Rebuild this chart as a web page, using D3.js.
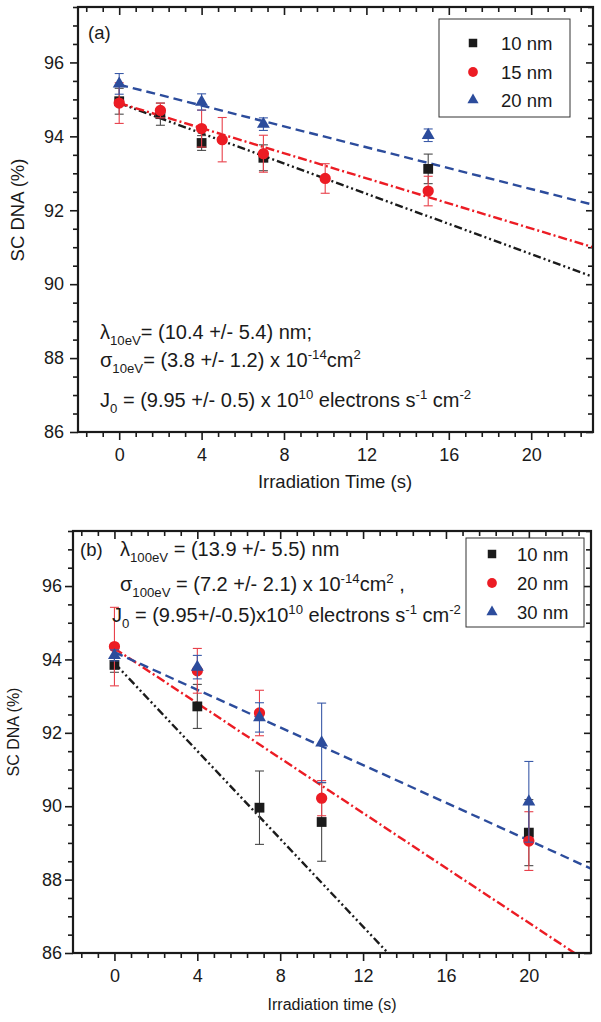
<!DOCTYPE html>
<html>
<head>
<meta charset="utf-8">
<script src="https://cdn.jsdelivr.net/npm/d3@7"></script>
<style>
  body { margin: 0; background: #fff; }
  svg text { font-family: "Liberation Sans", Arial, Helvetica, sans-serif; fill: #1a1a1a; white-space: pre; }
</style>
</head>
<body>
<div id="chart"></div>
<script>
// ---------- data, panel (a) ----------
var seriesNamesA = ["10 nm", "15 nm", "20 nm"];
var timeA10 = [0, 2, 4, 7, 15];
var dnaA10  = [94.95, 94.6, 93.82, 93.42, 93.12];
var errA10  = [0.35, 0.3, 0.2, 0.35, 0.4];
var timeA15 = [0, 2, 4, 5, 7, 10, 15];
var dnaA15  = [94.9, 94.7, 94.21, 93.91, 93.53, 92.86, 92.52];
var errA15  = [0.55, 0.2, 0.5, 0.6, 0.5, 0.4, 0.4];
var timeA20 = [0, 4, 7, 15];
var dnaA20  = [95.42, 94.93, 94.33, 94.03];
var errA20  = [0.28, 0.22, 0.17, 0.17];
// fitted lines (end points)
var fitTimeA = [0, 23];
var fitA10 = [94.9, 90.2];
var fitA15 = [94.9, 91.0];
var fitA20 = [95.4, 92.15];

// ---------- data, panel (b) ----------
var seriesNamesB = ["10 nm", "20 nm", "30 nm"];
var timeB = [0, 4, 7, 10, 20];
var dnaB10 = [93.85, 92.72, 89.96, 89.57, 89.28];
var errB10 = [0.2, 0.6, 1.0, 1.07, 0.9];
var dnaB20 = [94.35, 93.69, 92.54, 90.22, 89.05];
var errB20 = [1.07, 0.61, 0.62, 0.48, 0.8];
var dnaB30 = [94.11, 93.79, 92.42, 91.73, 90.12];
var errB30 = [0.15, 0.32, 0.4, 1.08, 1.1];
var fitTimeB10 = [0, 13.2];
var fitB10 = [93.9, 86.0];
var fitTimeB20 = [0, 22.2];
var fitB20 = [94.3, 86.0];
var fitTimeB30 = [0, 23];
var fitB30 = [94.2, 88.3];

// axis ticks
var xDomain = [-2, 23];
var yDomain = [86, 97.5];
var xMajor = [0, 4, 8, 12, 16, 20];
var yMajor = [86, 88, 90, 92, 94, 96];

var colors = ["#1b1b1b", "#ec1c24", "#2c4c9c"];
var errColors = ["#4a4a4a", "#e8404a", "#3a5aa8"];
var symbols = [d3.symbolSquare, d3.symbolCircle, d3.symbolTriangle];
var symSize = [96, 100, 72];
var dashes = ["8,3,2,3,2,3", "9,3,2,3", "9,5"];

var xMinor = d3.range(-2, 29).map(function (i) { return +(i * 0.8).toFixed(2); })
    .filter(function (v) { return v >= xDomain[0] && v <= xDomain[1] && Math.abs(v / 4 - Math.round(v / 4)) > 1e-6; });
var yMinor = d3.range(0, 24).map(function (i) { return 86 + i * 0.5; })
    .filter(function (v) { return v <= yDomain[1] && v % 2 !== 0; });

function zip(a, b, c) {
    return a.map(function (d, i) { return { t: d, v: b[i], e: c ? c[i] : 0 }; });
}

var panelA = {
    left: 78, right: 593, top: 7, bottom: 432,
    yPad: 6, xPad: 8,
    series: [zip(timeA10, dnaA10, errA10), zip(timeA15, dnaA15, errA15), zip(timeA20, dnaA20, errA20)],
    fits: [zip(fitTimeA, fitA10), zip(fitTimeA, fitA15), zip(fitTimeA, fitA20)],
    names: seriesNamesA,
    legend: { x: 439, y: 19, w: 131, h: 98, rows: [43, 72, 100], mx: 473, tx: 501 },
    tag: { x: 88, y: 39, text: "(a)" },
    xTitle: { text: "Irradiation Time (s)", x: 335, y: 488, size: 18.5 },
    yTitle: { x: 24, y: 210, size: 18.5 },
    notes: [
        { x: 100, y: 339, parts: [["λ", ""], ["10eV", "sub"], ["= (10.4 +/- 5.4) nm;", ""]] },
        { x: 100, y: 367, parts: [["σ", ""], ["10eV", "sub"], ["= (3.8 +/- 1.2) x 10", ""], ["-14", "sup"], ["cm", ""], ["2", "sup"]] },
        { x: 100, y: 407, parts: [["J", ""], ["0", "sub"], [" = (9.95 +/- 0.5) x 10", ""], ["10", "sup"], [" electrons s", ""], ["-1", "sup"], [" cm", ""], ["-2", "sup"]] }
    ]
};

var panelB = {
    left: 73, right: 591, top: 531, bottom: 953,
    yPad: 3, xPad: 8,
    series: [zip(timeB, dnaB10, errB10), zip(timeB, dnaB20, errB20), zip(timeB, dnaB30, errB30)],
    fits: [zip(fitTimeB10, fitB10), zip(fitTimeB20, fitB20), zip(fitTimeB30, fitB30)],
    names: seriesNamesB,
    legend: { x: 466, y: 538, w: 118, h: 89, rows: [554, 583, 612], mx: 492, tx: 517 },
    tag: { x: 80, y: 556, text: "(b)" },
    xTitle: { text: "Irradiation time (s)", x: 332, y: 1010, size: 16 },
    yTitle: { x: 19, y: 732, size: 16 },
    notes: [
        { x: 120, y: 556, parts: [["λ", ""], ["100eV", "sub"], [" = (13.9 +/- 5.5) nm", ""]] },
        { x: 120, y: 591, parts: [["σ", ""], ["100eV", "sub"], [" = (7.2 +/- 2.1) x 10", ""], ["-14", "sup"], ["cm", ""], ["2", "sup"], [" ,", ""]] },
        { x: 112, y: 622, parts: [["J", ""], ["0", "sub"], [" = (9.95+/-0.5)x10", ""], ["10", "sup"], [" electrons s", ""], ["-1", "sup"], [" cm", ""], ["-2", "sup"]] }
    ]
};

var svg = d3.select("#chart").append("svg")
    .attr("width", 601)
    .attr("height", 1022);

function richText(g, x, y, parts, size) {
    var t = g.append("text").attr("x", x).attr("y", y).attr("font-size", size);
    var cur = 0;
    parts.forEach(function (p) {
        var off = p[1] === "sub" ? size * 0.3 : (p[1] === "sup" ? -size * 0.42 : 0);
        t.append("tspan")
            .attr("dy", off - cur)
            .attr("font-size", p[1] ? size * 0.66 : size)
            .text(p[0]);
        cur = off;
    });
}

function styleAxis(sel, size) {
    sel.select(".domain").remove();
    sel.selectAll(".tick line").attr("stroke", "#1a1a1a").attr("stroke-width", 1.6);
    sel.selectAll(".tick text")
        .attr("font-family", "Liberation Sans, Arial, sans-serif")
        .attr("font-size", size)
        .attr("fill", "#1a1a1a");
}

function drawPanel(cfg) {
    var x = d3.scaleLinear().domain(xDomain).range([cfg.left, cfg.right]);
    var y = d3.scaleLinear().domain(yDomain).range([cfg.bottom, cfg.top]);
    var g = svg.append("g");

    // bottom axis (outward) with labels
    g.append("g").attr("transform", "translate(0," + cfg.bottom + ")")
        .call(d3.axisBottom(x).tickValues(xMajor).tickSize(8).tickSizeOuter(0).tickPadding(cfg.xPad).tickFormat(d3.format("d")))
        .call(styleAxis, 18);
    g.append("g").attr("transform", "translate(0," + cfg.bottom + ")")
        .call(d3.axisBottom(x).tickValues(xMinor).tickSize(5).tickSizeOuter(0).tickFormat(""))
        .call(styleAxis, 18);
    // top axis (inward)
    g.append("g").attr("transform", "translate(0," + cfg.top + ")")
        .call(d3.axisBottom(x).tickValues(xMajor).tickSize(8).tickSizeOuter(0).tickFormat(""))
        .call(styleAxis, 18);
    g.append("g").attr("transform", "translate(0," + cfg.top + ")")
        .call(d3.axisBottom(x).tickValues(xMinor).tickSize(5).tickSizeOuter(0).tickFormat(""))
        .call(styleAxis, 18);
    // left axis (outward) with labels
    g.append("g").attr("transform", "translate(" + cfg.left + ",0)")
        .call(d3.axisLeft(y).tickValues(yMajor).tickSize(8).tickSizeOuter(0).tickPadding(cfg.yPad).tickFormat(d3.format("d")))
        .call(styleAxis, 18);
    g.append("g").attr("transform", "translate(" + cfg.left + ",0)")
        .call(d3.axisLeft(y).tickValues(yMinor).tickSize(5).tickSizeOuter(0).tickFormat(""))
        .call(styleAxis, 18);
    // right axis (inward)
    g.append("g").attr("transform", "translate(" + cfg.right + ",0)")
        .call(d3.axisLeft(y).tickValues(yMajor).tickSize(7).tickSizeOuter(0).tickFormat(""))
        .call(styleAxis, 18);
    g.append("g").attr("transform", "translate(" + cfg.right + ",0)")
        .call(d3.axisLeft(y).tickValues(yMinor).tickSize(5).tickSizeOuter(0).tickFormat(""))
        .call(styleAxis, 18);

    // fitted lines
    var line = d3.line().x(function (d) { return x(d.t); }).y(function (d) { return y(d.v); });
    cfg.fits.forEach(function (f, i) {
        g.append("path")
            .attr("d", line(f))
            .attr("fill", "none")
            .attr("stroke", colors[i])
            .attr("stroke-width", 2.4)
            .attr("stroke-dasharray", dashes[i]);
    });

    // error bars and markers
    cfg.series.forEach(function (s, i) {
        var eg = g.append("g").attr("stroke", errColors[i]).attr("stroke-width", 1.1);
        eg.selectAll(".bar").data(s).enter().append("line")
            .attr("x1", function (d) { return x(d.t); })
            .attr("x2", function (d) { return x(d.t); })
            .attr("y1", function (d) { return y(d.v - d.e); })
            .attr("y2", function (d) { return y(d.v + d.e); });
        [-1, 1].forEach(function (sg) {
            eg.selectAll(".cap" + sg).data(s).enter().append("line")
                .attr("x1", function (d) { return x(d.t) - 4.5; })
                .attr("x2", function (d) { return x(d.t) + 4.5; })
                .attr("y1", function (d) { return y(d.v + sg * d.e); })
                .attr("y2", function (d) { return y(d.v + sg * d.e); });
        });
        g.selectAll(".pt" + i).data(s).enter().append("path")
            .attr("transform", function (d) { return "translate(" + x(d.t) + "," + y(d.v) + ")"; })
            .attr("d", d3.symbol().type(symbols[i]).size(symSize[i]))
            .attr("fill", colors[i]);
    });

    // frame
    g.append("rect")
        .attr("x", cfg.left).attr("y", cfg.top)
        .attr("width", cfg.right - cfg.left).attr("height", cfg.bottom - cfg.top)
        .attr("fill", "none").attr("stroke", "#1a1a1a").attr("stroke-width", 2.2);

    // legend
    var L = cfg.legend;
    g.append("rect")
        .attr("x", L.x).attr("y", L.y).attr("width", L.w).attr("height", L.h)
        .attr("fill", "#fff").attr("stroke", "#333").attr("stroke-width", 1);
    cfg.names.forEach(function (n, i) {
        g.append("path")
            .attr("transform", "translate(" + L.mx + "," + L.rows[i] + ")")
            .attr("d", d3.symbol().type(symbols[i]).size(symSize[i] * 0.75))
            .attr("fill", colors[i]);
        g.append("text")
            .attr("x", L.tx).attr("y", L.rows[i] + 6.5)
            .attr("font-size", 18.5)
            .text(n);
    });

    // panel tag, notes, titles
    g.append("text").attr("x", cfg.tag.x).attr("y", cfg.tag.y).attr("font-size", 18.5).text(cfg.tag.text);
    cfg.notes.forEach(function (n) { richText(g, n.x, n.y, n.parts, 20); });

    g.append("text")
        .attr("x", cfg.xTitle.x).attr("y", cfg.xTitle.y)
        .attr("text-anchor", "middle")
        .attr("font-size", cfg.xTitle.size)
        .text(cfg.xTitle.text);
    g.append("text")
        .attr("transform", "translate(" + cfg.yTitle.x + "," + cfg.yTitle.y + ") rotate(-90)")
        .attr("text-anchor", "middle")
        .attr("font-size", cfg.yTitle.size)
        .text("SC DNA (%)");
}

drawPanel(panelA);
drawPanel(panelB);
</script>
</body>
</html>
